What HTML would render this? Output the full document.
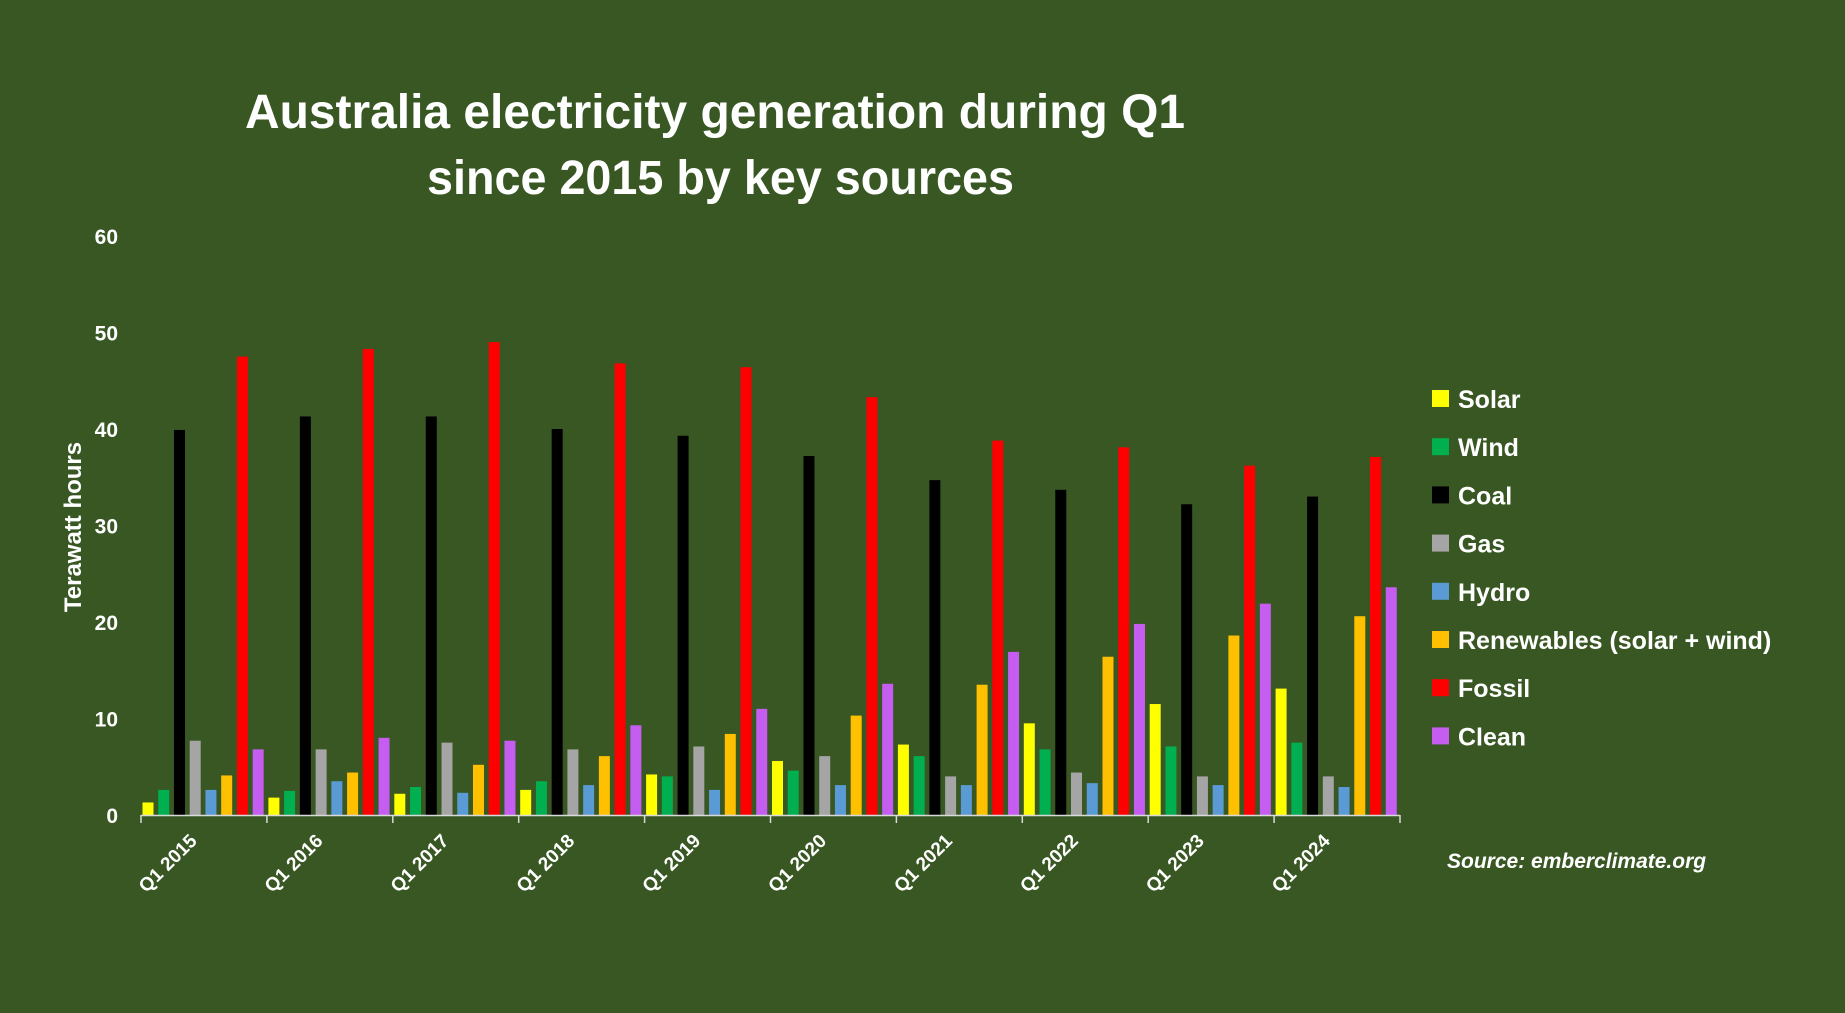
<!DOCTYPE html>
<html><head><meta charset="utf-8"><style>
html,body{margin:0;padding:0;background:#385723;}
svg{display:block;font-family:"Liberation Sans",sans-serif;}
</style></head><body>
<svg id="chart" width="1845" height="1013" viewBox="0 0 1845 1013" xmlns="http://www.w3.org/2000/svg">
<rect x="0" y="0" width="1845" height="1013" fill="#385723"/>
<text x="245" y="128" fill="#fff" font-weight="bold" font-size="48" textLength="940" lengthAdjust="spacingAndGlyphs">Australia electricity generation during Q1</text>
<text x="427" y="194" fill="#fff" font-weight="bold" font-size="48" textLength="587" lengthAdjust="spacingAndGlyphs">since 2015 by key sources</text>
<text transform="translate(81,527) rotate(-90)" text-anchor="middle" fill="#fff" font-weight="bold" font-size="24">Terawatt hours</text>
<text x="1447" y="868" fill="#fff" font-weight="bold" font-style="italic" font-size="21">Source: emberclimate.org</text>
<g id="plot"></g>
<g id="legend"></g>
</svg>
<script>
const categories = ["Q1 2015","Q1 2016","Q1 2017","Q1 2018","Q1 2019","Q1 2020","Q1 2021","Q1 2022","Q1 2023","Q1 2024"];
const seriesNames = ["Solar","Wind","Coal","Gas","Hydro","Renewables (solar + wind)","Fossil","Clean"];
const solar = [1.3,1.8,2.2,2.6,4.2,5.6,7.3,9.5,11.5,13.1];
const wind = [2.6,2.5,2.9,3.5,4.0,4.6,6.1,6.8,7.1,7.5];
const coal = [39.9,41.3,41.3,40.0,39.3,37.2,34.7,33.7,32.2,33.0];
const gas = [7.7,6.8,7.5,6.8,7.1,6.1,4.0,4.4,4.0,4.0];
const hydro = [2.6,3.5,2.3,3.1,2.6,3.1,3.1,3.3,3.1,2.9];
const renewables = [4.1,4.4,5.2,6.1,8.4,10.3,13.5,16.4,18.6,20.6];
const fossil = [47.5,48.3,49.0,46.8,46.4,43.3,38.8,38.1,36.2,37.1];
const clean = [6.8,8.0,7.7,9.3,11.0,13.6,16.9,19.8,21.9,23.6];
const yTicks = [0,10,20,30,40,50,60];

const colors = ["#ffff00","#00b050","#000000","#a5a5a5","#5b9bd5","#ffc000","#ff0000","#c55ef0"];
const allSeries = [solar,wind,coal,gas,hydro,renewables,fossil,clean];
const NS = "http://www.w3.org/2000/svg";
const X0 = 141, X1 = 1400, Y0 = 815, Y60 = 236;
const groupW = (X1 - X0) / categories.length;
const step = groupW / 8;
const barW = 11;
function yScale(v){ return Y0 - (v / 60) * (Y0 - Y60); }
function xGroup(i){ return X0 + i * groupW; }
function mk(tag, attrs, parent){
  const e = document.createElementNS(NS, tag);
  for (const k in attrs) e.setAttribute(k, attrs[k]);
  parent.appendChild(e);
  return e;
}
const plot = document.getElementById('plot');
const svg = document.getElementById('chart');

yTicks.forEach(t => {
  const tx = mk('text', {x:118, y:yScale(t)+8, 'text-anchor':'end', fill:'#fff', 'font-weight':'bold', 'font-size':'21'}, svg);
  
  
  tx.textContent = t;
});

allSeries.forEach((arr, s) => {
  arr.forEach((v, i) => {
    const x = xGroup(i) + 1.5 + s * step;
    const r = mk('rect', {x:x, y:yScale(v), width:barW, height:Y0 - yScale(v), fill:colors[s]}, plot);
    
    
  });
});

const axis = mk('line', {x1:X0, y1:Y0+0.5, x2:X1, y2:Y0+0.5, stroke:'#d9d9d9', 'stroke-width':'1.5'}, svg);


for (let i = 0; i <= categories.length; i++) {
  const tk = mk('line', {x1:xGroup(i), y1:Y0, x2:xGroup(i), y2:Y0+8, stroke:'#d9d9d9', 'stroke-width':'1.5'}, svg);
  
  
}
categories.forEach((c, i) => {
  const cx = xGroup(i) + groupW / 2 - 6;
  const tx = mk('text', {transform:'translate(' + cx + ',842) rotate(-45)', 'text-anchor':'end', fill:'#fff', 'font-weight':'bold', 'font-size':'19'}, svg);
  
  
  tx.textContent = c;
});

const legend = document.getElementById('legend');
seriesNames.forEach((n, s) => {
  const cy = 399 + s * 48.2;
  const g = mk('g', {}, legend);
  
  
  mk('rect', {x:1432, y:cy-9, width:17, height:17, fill:colors[s]}, g);
  const t = mk('text', {x:1458, y:cy+9, fill:'#fff', 'font-weight':'bold', 'font-size':'25'}, g);
  t.textContent = n;
});
</script>
</body></html>
